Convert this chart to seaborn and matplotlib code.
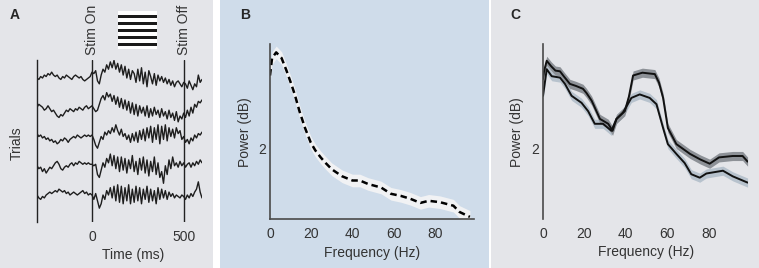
import numpy as np
import pandas as pd
import seaborn as sns
import matplotlib.pyplot as plt

# ---- panel A: single trials (values relative to each trace's baseline), 10 ms steps from -300 ms
trial_1 = [0.0, -0.05, 0.05, 0.0, 0.1, 0.05, 0.15, 0.1, 0.2, 0.1,
           0.05, 0.1, 0.0, -0.05, 0.05, 0.0, 0.1, 0.05, 0.0, -0.05,
           0.05, 0.1, 0.05, 0.0, 0.05, -0.05, -0.1, -0.05, 0.0, 0.05,
           0.2, 0.15, 0.25, -0.1, -0.2, 0.1, 0.3, 0.2, 0.45, 0.3,
           0.55, 0.35, 0.6, 0.3, 0.5, 0.2, 0.45, 0.1, 0.4, 0.0,
           0.3, -0.05, 0.25, 0.15, -0.15, 0.3, -0.1, 0.35, -0.2, 0.2,
           -0.3, 0.25, 0.05, -0.2, 0.15, -0.25, 0.1, -0.1, 0.05, -0.15,
           0.0, -0.2, -0.05, -0.25, -0.1, -0.3, -0.15, -0.1, -0.2, -0.3,
           -0.15, -0.2, -0.35, -0.1, -0.25, -0.4, -0.2, -0.3, 0.1, -0.15, -0.05]
trial_2 = [0.0, 0.1, 0.05, 0.0, -0.1, -0.05, 0.05, -0.05, -0.15, -0.1,
           -0.2, -0.3, -0.35, -0.25, -0.3, -0.2, -0.1, -0.15, -0.05, -0.1,
           -0.15, -0.05, -0.1, 0.0, -0.05, -0.1, 0.0, 0.05, -0.05, 0.0,
           0.05, -0.05, -0.15, -0.1, 0.1, 0.3, 0.4, 0.25, 0.5, 0.35,
           0.45, 0.2, 0.4, 0.1, 0.35, 0.0, 0.3, -0.05, 0.25, -0.1,
           0.2, -0.2, 0.15, -0.25, 0.1, -0.3, 0.05, -0.2, 0.0, -0.3,
           0.05, -0.35, -0.05, -0.3, 0.0, -0.25, -0.1, -0.35, -0.05, -0.3,
           -0.15, -0.4, -0.1, -0.35, -0.2, -0.45, -0.15, -0.5, -0.3, -0.4,
           -0.2, -0.35, -0.1, -0.3, 0.0, -0.2, 0.1, 0.0, 0.2, 0.15, 0.25]
trial_3 = [0.1, 0.0, 0.05, -0.05, 0.0, -0.1, -0.05, -0.15, -0.1, -0.2,
           -0.15, -0.25, -0.2, -0.1, -0.15, -0.05, -0.1, -0.2, -0.1, -0.05,
           0.0, -0.05, 0.05, 0.0, -0.05, 0.0, 0.05, 0.0, 0.05, 0.0,
           0.05, -0.1, -0.3, -0.4, -0.2, 0.0, -0.1, 0.15, 0.05, 0.2,
           0.1, 0.3, 0.15, 0.4, 0.2, 0.05, 0.25, 0.0, 0.1, -0.1,
           0.05, -0.2, 0.1, -0.15, 0.15, -0.2, 0.2, -0.1, 0.25, -0.15,
           0.3, -0.05, 0.35, -0.2, 0.3, -0.1, 0.4, -0.25, 0.35, -0.1,
           0.4, -0.15, 0.3, 0.0, 0.25, -0.05, 0.3, 0.1, 0.2, -0.1,
           0.0, -0.2, -0.1, -0.25, -0.05, -0.15, 0.05, -0.05, 0.1, 0.05, 0.15]
trial_4 = [0.0, -0.1, -0.05, -0.2, -0.1, -0.25, -0.15, -0.05, -0.1, 0.0,
           0.1, 0.15, 0.05, -0.1, -0.15, -0.05, 0.0, -0.05, 0.05, 0.1,
           0.0, 0.1, 0.05, 0.15, 0.1, 0.05, 0.1, 0.05, 0.1, 0.05,
           0.05, 0.0, 0.05, -0.3, -0.4, -0.15, 0.1, -0.05, 0.25, 0.1,
           0.4, 0.0, 0.35, -0.1, 0.3, -0.2, 0.3, -0.15, 0.25, -0.25,
           0.2, -0.1, 0.35, -0.2, 0.15, -0.3, 0.25, -0.15, 0.3, -0.25,
           0.2, -0.35, 0.15, -0.2, 0.3, -0.3, 0.1, -0.4, -0.2, -0.6,
           0.0, -0.3, 0.2, -0.1, 0.3, 0.0, 0.1, -0.05, 0.15, 0.0,
           0.1, -0.05, 0.05, 0.1, -0.05, 0.1, 0.0, 0.15, 0.05, 0.2, 0.1]
trial_5 = [0.0, -0.1, -0.15, -0.05, -0.1, 0.0, 0.05, 0.1, 0.05, 0.1,
           0.15, 0.1, 0.2, 0.15, 0.1, 0.15, 0.05, 0.1, 0.0, 0.05,
           0.1, 0.05, 0.0, 0.05, 0.1, 0.15, 0.05, 0.1, 0.0, 0.05,
           0.0, -0.15, 0.05, -0.2, -0.45, -0.3, 0.0, -0.15, 0.15, 0.0,
           0.25, -0.1, 0.3, -0.2, 0.35, -0.25, 0.3, -0.3, 0.25, -0.2,
           0.35, -0.3, 0.2, -0.25, 0.3, -0.2, 0.25, -0.3, 0.2, -0.15,
           0.3, -0.25, 0.2, -0.2, 0.15, -0.3, 0.25, -0.15, 0.2, -0.1,
           0.15, -0.15, 0.1, -0.05, 0.05, -0.1, 0.0, -0.05, -0.1, 0.0,
           -0.05, -0.15, 0.0, -0.1, 0.05, -0.05, 0.1, 0.2, 0.45, 0.1, -0.1]
trials = [trial_1, trial_2, trial_3, trial_4, trial_5]
trial_offsets = [4, 3, 2, 1, 0]

# ---- panel B: power spectrum (dashed) with its error band
freq_b = [0, 1, 3, 5.6, 8, 10.3, 12, 14.3, 17, 19.8, 22, 24.6, 27, 30, 35, 40, 43.6,
          47.6, 53.9, 58.7, 63.5, 68, 73, 77, 82.5, 89, 92, 97]
power_b = [3.05, 3.3, 3.38, 3.3, 3.12, 2.93, 2.78, 2.54, 2.3, 2.09, 1.98, 1.88, 1.8,
           1.71, 1.61, 1.55, 1.55, 1.5, 1.45, 1.36, 1.33, 1.29, 1.23, 1.26, 1.24,
           1.19, 1.1, 1.03]
err_b = 0.09

# ---- panel C: two spectra with error bands
freq_c_stim = [0, 0.5, 1.8, 4, 6, 8.2, 10, 13, 16, 19.3, 21, 23.5, 27.5, 31.5, 33.6,
               35.5, 39.5, 41.5, 43.5, 48, 54, 56, 58, 60.3, 64.4, 71, 76, 80.5, 85,
               91.6, 96.4, 98.8]
power_c_stim = [3.0, 3.11, 3.26, 3.18, 3.12, 3.11, 3.04, 2.93, 2.9, 2.86, 2.8, 2.69,
                2.43, 2.36, 2.26, 2.43, 2.54, 2.75, 3.05, 3.09, 3.07, 2.95, 2.73, 2.3,
                2.07, 1.93, 1.85, 1.79, 1.88, 1.9, 1.9, 1.82]
freq_c_base = [0, 1.8, 4.2, 8.2, 10.6, 13.8, 18.6, 21.8, 25, 29, 33, 35.5, 38.6,
               42.7, 46.7, 51.5, 54.8, 58, 60.3, 64.4, 68.4, 71.6, 75.7, 78.9, 86.9,
               91.6, 98.8]
power_c_base = [2.76, 3.14, 3.04, 3.02, 2.93, 2.76, 2.66, 2.54, 2.36, 2.36, 2.26,
                2.43, 2.52, 2.73, 2.78, 2.73, 2.64, 2.3, 2.07, 1.93, 1.8, 1.64, 1.59,
                1.65, 1.69, 1.61, 1.52]
err_c = 0.065

sns.set_style("white")
plt.rcParams['font.family'] = ['Liberation Sans', 'DejaVu Sans']
text_col = "#333333"
axis_col = "#4a4a4a"

W, H = 759, 268
fig = plt.figure(figsize=(W / 100, H / 100), dpi=100)


def px(x0, y0, x1, y1):
    # pixel box (top-left origin) -> figure fraction rect
    return [x0 / W, 1 - y1 / H, (x1 - x0) / W, (y1 - y0) / H]


# panel backgrounds as bottom-most axes
for x0, x1, col in [(0, 213, "#e4e5e9"), (220, 489, "#cfdcea"), (491, 759, "#e4e5e9")]:
    bg = fig.add_axes(px(x0, 0, x1, H), zorder=-10)
    bg.set_facecolor(col)
    bg.set_xticks([])
    bg.set_yticks([])
    for s in bg.spines.values():
        s.set_visible(False)

# ---------------- panel A
axA = fig.add_axes(px(37, 60, 202, 222))
axA.set_facecolor("none")
for tr, off in zip(trials, trial_offsets):
    t = -300 + 10 * np.arange(len(tr))
    df = pd.DataFrame({"t": t, "v": np.array(tr) + off})
    sns.lineplot(data=df, x="t", y="v", ax=axA, color="#1e1e1e", lw=1.0)
axA.axvline(0, color="#222222", lw=1.0)
axA.axvline(500, color="#222222", lw=1.0)
axA.set_xlim(-300, 600)
axA.set_ylim(-0.923, 4.615)
for s in ["top", "right", "bottom"]:
    axA.spines[s].set_visible(False)
axA.spines["left"].set_color("#222222")
axA.spines["left"].set_linewidth(1.0)
axA.set_xticks([0, 500])
axA.set_yticks([])
axA.tick_params(axis="x", length=0, pad=6, labelsize=10, labelcolor=text_col)
axA.set_xlabel("")
axA.set_ylabel("")
for tx, lab in [(0, "Stim On"), (500, "Stim Off")]:
    axA.text(tx, 1.03, lab, transform=axA.get_xaxis_transform(), rotation=90,
             ha="center", va="bottom", fontsize=10, color=text_col)

# grating icon
gax = fig.add_axes(px(118, 11, 157, 49))
gax.set_facecolor("white")
gax.set_xlim(0, 1)
gax.set_ylim(0, 38)
for k in range(5):
    gax.axhspan(3 + 7 * k, 6 + 7 * k, color="#1a1a1a", lw=0)
gax.set_xticks([])
gax.set_yticks([])
for s in gax.spines.values():
    s.set_visible(False)

fig.text(15 / W, 1 - 15 / H, "A", fontsize=10, weight="bold", ha="center", va="center")
fig.text(17 / W, 1 - 143 / H, "Trials", rotation=90, fontsize=10, color=text_col,
         ha="center", va="center")
fig.text(133 / W, 1 - 255 / H, "Time (ms)", fontsize=10, color=text_col,
         ha="center", va="center")


def style_spectrum(ax, bottom_spine):
    ax.set_facecolor("none")
    ax.set_xlim(0, 99)
    ax.set_ylim(1, 3.5)
    ax.set_xticks([0, 20, 40, 60, 80])
    ax.set_yticks([2])
    for s in ["top", "right"]:
        ax.spines[s].set_visible(False)
    ax.spines["bottom"].set_visible(bottom_spine)
    for s in ["left", "bottom"]:
        ax.spines[s].set_color(axis_col)
        ax.spines[s].set_linewidth(1.2)
    ax.tick_params(direction="in", length=2.5, width=1, color=axis_col,
                   labelsize=10, labelcolor=text_col)
    ax.tick_params(axis="x", pad=6)
    ax.tick_params(axis="y", pad=3)
    ax.set_xlabel("")
    ax.set_ylabel("")


# ---------------- panel B
axB = fig.add_axes(px(270, 44, 474, 219))
pb = np.array(power_b)
axB.fill_between(freq_b, pb - err_b, pb + err_b, color="#f1f2f4", lw=0)
sns.lineplot(x=freq_b, y=power_b, ax=axB, color="black", lw=1.8)
axB.lines[-1].set_linestyle((0, (2.6, 1.6)))
style_spectrum(axB, True)
fig.text(245 / W, 1 - 15 / H, "B", fontsize=10, weight="bold", ha="center", va="center")
fig.text(245 / W, 1 - 132 / H, "Power (dB)", rotation=90, fontsize=10, color=text_col,
         ha="center", va="center")
fig.text(372 / W, 1 - 253 / H, "Frequency (Hz)", fontsize=10, color=text_col,
         ha="center", va="center")

# ---------------- panel C
axC = fig.add_axes(px(543, 44, 748, 219))
ps = np.array(power_c_stim)
pbase = np.array(power_c_base)
axC.fill_between(freq_c_base, pbase - err_c, pbase + err_c, color="#b7c2cd", lw=0)
axC.fill_between(freq_c_stim, ps - err_c, ps + err_c, color="#8d9197", lw=0)
sns.lineplot(x=freq_c_base, y=power_c_base, ax=axC, color="#111111", lw=1.4)
sns.lineplot(x=freq_c_stim, y=power_c_stim, ax=axC, color="#111111", lw=1.4)
style_spectrum(axC, False)
fig.text(515 / W, 1 - 15 / H, "C", fontsize=10, weight="bold", ha="center", va="center")
fig.text(517 / W, 1 - 132 / H, "Power (dB)", rotation=90, fontsize=10, color=text_col,
         ha="center", va="center")
fig.text(646 / W, 1 - 252 / H, "Frequency (Hz)", fontsize=10, color=text_col,
         ha="center", va="center")

fig.savefig("out.png", dpi=100)
